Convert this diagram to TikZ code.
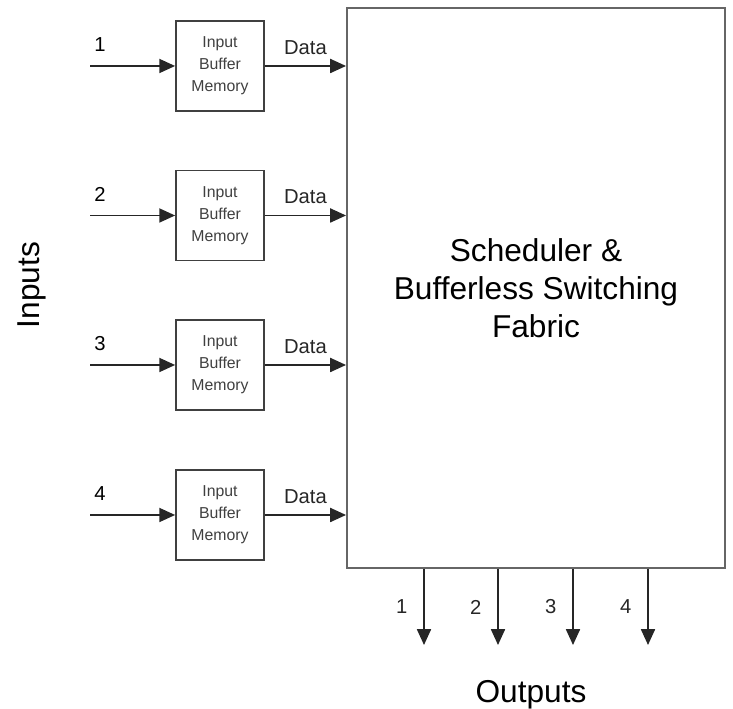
\documentclass[tikz,border=0pt]{standalone}
\usepackage{fontspec}
\setmainfont{Liberation Sans}
\usetikzlibrary{positioning,arrows.meta}

\begin{document}
\begin{tikzpicture}[
  buffer/.style={rectangle, draw=black!75, line width=1pt, minimum width=17.6mm, minimum height=18mm, inner sep=0pt, align=center, font=\fontsize{9}{12.5}\selectfont, text=black!75},
  fabricbox/.style={rectangle, draw=black!60, line width=1.1pt, minimum width=75.6mm, minimum height=112mm, inner sep=0pt, align=center, font=\fontsize{18}{21.6}\selectfont},
  link/.style={line width=0.9pt, black!85, -{Triangle[length=9pt, width=8pt]}},
  lbl/.style={font=\fontsize{11.5}{13}\selectfont, inner sep=1pt},
  big/.style={font=\fontsize{18}{21}\selectfont, inner sep=0pt}
]
\useasboundingbox (0,0) rectangle (14.66,14.18);

\node[fabricbox] (fabric) at (10.72, 8.42) {Scheduler \&\\Bufferless Switching\\Fabric};

\node[buffer] (buf1) at (4.4, 12.86) {Input\\Buffer\\Memory};
\node[buffer] (buf2) at (4.4, 9.87) {Input\\Buffer\\Memory};
\node[buffer] (buf3) at (4.4, 6.88) {Input\\Buffer\\Memory};
\node[buffer] (buf4) at (4.4, 3.88) {Input\\Buffer\\Memory};

\coordinate (in1) at (1.8, 12.86);
\coordinate (in2) at (1.8, 9.87);
\coordinate (in3) at (1.8, 6.88);
\coordinate (in4) at (1.8, 3.88);

% inputs into the buffers
\draw[link] (in1) -- (buf1);
\draw[link] (in2) -- (buf2);
\draw[link] (in3) -- (buf3);
\draw[link] (in4) -- (buf4);
\node[lbl] (n1) at (2.0, 13.28) {1};
\node[lbl] (n2) at (2.0, 10.3) {2};
\node[lbl] (n3) at (2.0, 7.3) {3};
\node[lbl] (n4) at (2.0, 4.3) {4};

% buffers into the fabric
\draw[link] (buf1) -- node[lbl, above=5pt]{Data} (buf1 -| fabric.west);
\draw[link] (buf2) -- node[lbl, above=5pt]{Data} (buf2 -| fabric.west);
\draw[link] (buf3) -- node[lbl, above=5pt]{Data} (buf3 -| fabric.west);
\draw[link] (buf4) -- node[lbl, above=5pt]{Data} (buf4 -| fabric.west);

% outputs
\coordinate (out1) at (8.48, 1.28);
\coordinate (out2) at (9.96, 1.28);
\coordinate (out3) at (11.46, 1.28);
\coordinate (out4) at (12.96, 1.28);
\draw[link] (out1 |- fabric.south) -- node[lbl, left=8pt]{1} (out1);
\draw[link] (out2 |- fabric.south) -- node[lbl, left=8pt]{2} (out2);
\draw[link] (out3 |- fabric.south) -- node[lbl, left=8pt]{3} (out3);
\draw[link] (out4 |- fabric.south) -- node[lbl, left=8pt]{4} (out4);

\node[big, anchor=base] (outputs) at (10.62, 0.12) {Outputs};
\node[big, rotate=90] (inputs) at (0.64, 8.48) {Inputs};
\end{tikzpicture}
\end{document}
